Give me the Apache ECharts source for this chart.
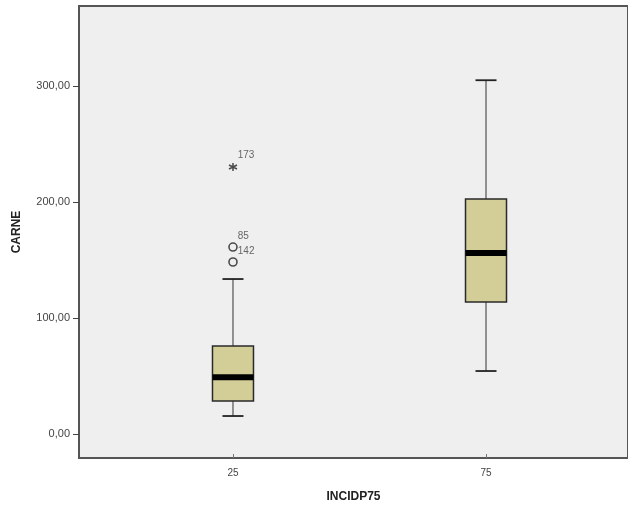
<!DOCTYPE html>
<html>
<head>
<meta charset="utf-8">
<script src="https://cdn.jsdelivr.net/npm/echarts@6/dist/echarts.min.js"></script>
<style>
  html, body { margin: 0; padding: 0; background: #ffffff; }
  #chart { width: 628px; height: 508px; }
</style>
</head>
<body>
<div id="chart"></div>
<script>
// Groups of INCIDP75 and the five-number summary of CARNE in each
const categories = ['25', '75'];
const whiskerLow = [15.5, 54.3];
const q1 = [28.4, 113.8];
const median = [49.0, 156.0];
const q3 = [75.9, 202.6];
const whiskerHigh = [133.6, 305.0];

// Outliers (circles) and extremes (asterisks) with their case numbers
const outlierGroup = ['25', '25'];
const outlierValues = [148.3, 161.2];
const outlierIds = ['142', '85'];
const extremeGroup = ['25'];
const extremeValues = [230.2];
const extremeIds = ['173'];

// Tick labels
const yTicks = [0, 100, 200, 300];
const xTicks = categories.map(Number);

const fmt = v => v.toFixed(2).replace('.', ',');

const boxData = categories.map((c, i) => [Number(c), whiskerLow[i], q1[i], median[i], q3[i], whiskerHigh[i]]);

const BOX_HALF = 20.5;
const CAP_HALF = 10.5;

function renderBox(params, api) {
  const x = api.value(0);
  const pLow = api.coord([x, api.value(1)]);
  const pQ1 = api.coord([x, api.value(2)]);
  const pMed = api.coord([x, api.value(3)]);
  const pQ3 = api.coord([x, api.value(4)]);
  const pHigh = api.coord([x, api.value(5)]);
  const cx = pMed[0];
  const lineStyle = { stroke: '#333333', lineWidth: 1 };
  const capStyle = { stroke: '#222222', lineWidth: 1.8 };
  return {
    type: 'group',
    children: [
      { type: 'line', shape: { x1: cx, y1: pQ3[1], x2: cx, y2: pHigh[1] }, style: lineStyle },
      { type: 'line', shape: { x1: cx, y1: pQ1[1], x2: cx, y2: pLow[1] }, style: lineStyle },
      { type: 'line', shape: { x1: cx - CAP_HALF, y1: pHigh[1], x2: cx + CAP_HALF, y2: pHigh[1] }, style: capStyle },
      { type: 'line', shape: { x1: cx - CAP_HALF, y1: pLow[1], x2: cx + CAP_HALF, y2: pLow[1] }, style: capStyle },
      { type: 'rect', shape: { x: cx - BOX_HALF, y: pQ3[1], width: BOX_HALF * 2, height: pQ1[1] - pQ3[1] },
        style: { fill: '#d3ce97', stroke: '#2a2a2a', lineWidth: 1.5 } },
      { type: 'line', shape: { x1: cx - BOX_HALF, y1: pMed[1], x2: cx + BOX_HALF, y2: pMed[1] },
        style: { stroke: '#000000', lineWidth: 6 } }
    ]
  };
}

const chart = echarts.init(document.getElementById('chart'));
chart.setOption({
  animation: false,
  backgroundColor: '#ffffff',
  grid: {
    left: 79, top: 6, right: -1, bottom: 50,
    show: true, backgroundColor: '#efefef', borderColor: '#555555', borderWidth: 2
  },
  xAxis: {
    type: 'value',
    min: -5.43, max: 103.06,
    name: 'INCIDP75',
    nameLocation: 'middle',
    nameGap: 33,
    nameTextStyle: { fontFamily: 'Liberation Sans', fontWeight: 'bold', fontSize: 12, color: '#222222' },
    splitLine: { show: false },
    axisLine: { show: true, onZero: false, lineStyle: { color: '#555555', width: 2 } },
    axisTick: { show: true, inside: true, length: 4, customValues: xTicks, lineStyle: { color: '#777777' } },
    axisLabel: { customValues: xTicks, formatter: v => String(v), fontFamily: 'Liberation Sans', fontSize: 10, color: '#444444', margin: 10 }
  },
  yAxis: {
    type: 'value',
    min: -20.7, max: 369,
    name: 'CARNE',
    nameLocation: 'middle',
    nameGap: 56,
    nameRotate: 90,
    nameTextStyle: { fontFamily: 'Liberation Sans', fontWeight: 'bold', fontSize: 12, color: '#222222' },
    splitLine: { show: false },
    axisLine: { show: true, onZero: false, lineStyle: { color: '#555555', width: 2 } },
    axisTick: { show: true, length: 6, customValues: yTicks, lineStyle: { color: '#444444', width: 1 } },
    axisLabel: { customValues: yTicks, formatter: fmt, fontFamily: 'Liberation Sans', fontSize: 11, color: '#444444', margin: 9 }
  },
  series: [
    {
      type: 'custom',
      renderItem: renderBox,
      data: boxData,
      encode: { x: 0, y: [1, 2, 3, 4, 5] },
      z: 2
    },
    {
      type: 'scatter',
      symbol: 'circle',
      symbolSize: 8,
      itemStyle: { color: '#efefef', borderColor: '#222222', borderWidth: 1.6 },
      label: {
        show: true, position: 'right', distance: 0, offset: [0, -11],
        formatter: p => outlierIds[p.dataIndex],
        fontFamily: 'Liberation Sans', fontSize: 10, color: '#444444'
      },
      data: outlierGroup.map((g, i) => [Number(g), outlierValues[i]]),
      z: 3
    },
    {
      type: 'scatter',
      symbol: 'path://M0,-10L0,10M-8.7,-5L8.7,5M-8.7,5L8.7,-5',
      symbolSize: 8,
      itemStyle: { color: 'transparent', borderColor: '#222222', borderWidth: 1.5 },
      label: {
        show: true, position: 'right', distance: 0, offset: [0, -12],
        formatter: p => extremeIds[p.dataIndex],
        fontFamily: 'Liberation Sans', fontSize: 10, color: '#444444'
      },
      data: extremeGroup.map((g, i) => [Number(g), extremeValues[i]]),
      z: 3
    }
  ]
});
</script>
</body>
</html>
